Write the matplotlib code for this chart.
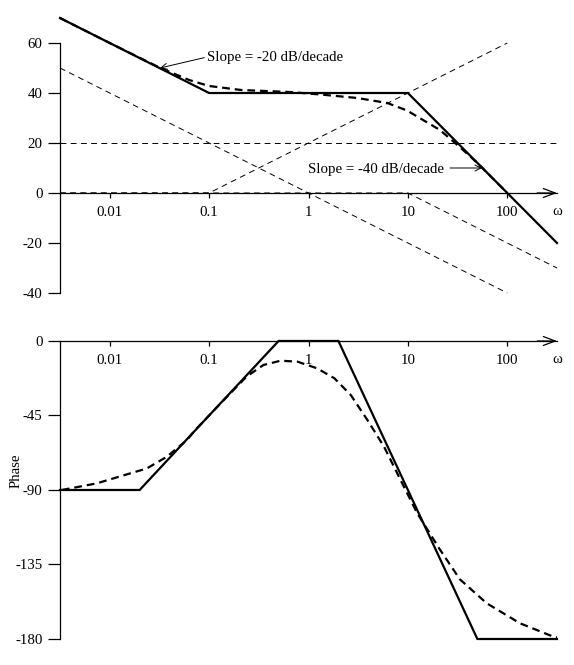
import numpy as np
import matplotlib
matplotlib.use("Agg")
import matplotlib.pyplot as plt
from matplotlib.ticker import FixedLocator, NullLocator
import matplotlib.transforms as mtransforms

plt.rcParams['font.family'] = ['Liberation Serif', 'DejaVu Serif']
plt.rcParams['font.size'] = 10.7
plt.rcParams['axes.unicode_minus'] = False

# frequency range of the plot
w_min, w_max = 10 ** -2.5, 10 ** 2.5
freq_ticks = [0.01, 0.1, 1, 10, 100]
freq_labels = ['0.01', '0.1', '1', '10', '100']

# magnitude: straight-line asymptote (solid)
mag_asym_w = [w_min, 0.1, 10, w_max]
mag_asym_db = [70, 40, 40, -20]

mag_w = [0.00316, 0.01, 0.0316, 0.063, 0.1, 0.21, 0.65, 1.4, 3.1, 6.2, 9.8, 14.2, 21, 33, 50, 100]
mag_db = [70, 60, 50.2, 45.2, 42.8, 41.2, 40.4, 39.3, 38, 36, 33, 29.2, 25.2, 18.5, 12, 0]

# individual factor asymptotes (thin dashed)
gain_w, gain_db = [w_min, 100], [50, -40]
const_w, const_db = [w_min, w_max], [20, 20]
zero_w, zero_db = [w_min, 0.1, 100], [0, 0, 60]
pole_w, pole_db = [w_min, 10, w_max], [0, 0, -30]

# phase: asymptote (solid)
ph_asym_w = [w_min, 0.02, 0.5, 2, 50, w_max]
ph_asym_deg = [-90, -90, 0, 0, -180, -180]

# phase: actual curve (heavy dashed)
ph_w = [0.0033, 0.0074, 0.016, 0.0236, 0.0374, 0.0595, 0.072, 0.129, 0.238, 0.352,
        0.524, 0.775, 1.22, 1.82, 2.66, 3.91, 5.75, 8.44, 12.4, 21, 33.4, 62, 134, 288, 316]
ph_deg = [-90, -86, -80, -77, -70, -60, -54, -38, -21.5, -14.5,
          -11.9, -12.5, -16.5, -22.5, -32.6, -47.7, -63.8, -84, -104, -126, -144, -158.4, -170.5, -178.5, -179]

mag_ticks = [60, 40, 20, 0, -20, -40]
phase_ticks = [0, -45, -90, -135, -180]

fig = plt.figure(figsize=(5.74, 6.65), dpi=100)
ax1 = fig.add_axes([60 / 574, 0.5594, 497 / 574, 0.42105])
ax2 = fig.add_axes([60 / 574, 0.0391, 497 / 574, 0.4556])

thin = dict(color='black', lw=0.7, dashes=(6, 4.5), clip_on=False)
heavy = dict(color='black', lw=1.6, dashes=(3.5, 2.2), clip_on=False)
solid = dict(color='black', lw=1.6, solid_joinstyle='miter', clip_on=False)

# --- magnitude panel ---
ax1.plot(gain_w, gain_db, **thin)
ax1.plot(const_w, const_db, **thin)
ax1.plot(zero_w, zero_db, **thin)
ax1.plot(pole_w, pole_db, **thin)
ax1.plot(mag_asym_w, mag_asym_db, **solid)
ax1.plot(mag_w, mag_db, **heavy)
ax1.set_ylim(-40, 72)

ax1.annotate('Slope = -20 dB/decade', xy=(0.0321, 50), xytext=(0.0953, 54.4),
             va='center', ha='left',
             arrowprops=dict(arrowstyle='->', lw=0.7, color='black', shrinkA=0, shrinkB=0,
                             relpos=(0, 0.5)))
ax1.text(0.99, 9.2, 'Slope = -40 dB/decade', va='center', ha='left')
ax1.annotate('', xy=(55.7, 10), xytext=(26.5, 10),
             arrowprops=dict(arrowstyle='->', lw=0.7, color='black', shrinkA=0, shrinkB=0))

# --- phase panel ---
ax2.plot(ph_asym_w, ph_asym_deg, **solid)
ax2.plot(ph_w, ph_deg, **heavy)
ax2.set_ylim(-180, 3)
ax2.set_ylabel('Phase')
ax2.yaxis.set_label_coords(-0.075, 0.555)

for ax, yt, ylo, yhi in [(ax1, mag_ticks, -40, 60), (ax2, phase_ticks, -180, 0)]:
    ax.set_xscale('log')
    ax.set_xlim(w_min, w_max)
    ax.xaxis.set_major_locator(FixedLocator(freq_ticks))
    ax.xaxis.set_minor_locator(NullLocator())
    ax.set_xticklabels(freq_labels)
    ax.set_yticks(yt)
    ax.set_yticklabels([str(v) for v in yt])
    ax.spines['top'].set_visible(False)
    ax.spines['right'].set_visible(False)
    ax.spines['bottom'].set_position(('data', 0))
    ax.spines['left'].set_bounds(ylo, yhi)
    for s in ['bottom', 'left']:
        ax.spines[s].set_linewidth(0.9)
    ax.tick_params(axis='x', direction='out', length=3.6, width=0.9, pad=5.5)
    ax.tick_params(axis='y', direction='out', length=9, width=0.9, pad=3.5)
    ax.patch.set_visible(False)
    # arrow at the end of the frequency axis
    ax.annotate('', xy=(w_max, 0), xytext=(10 ** 2.3, 0),
                arrowprops=dict(arrowstyle='->,head_length=0.8,head_width=0.3', lw=0.9,
                                color='black', shrinkA=0, shrinkB=0))
    trans = mtransforms.offset_copy(ax.transData, fig=fig, x=0, y=-19, units='dots')
    ax.text(w_max, 0, 'ω', transform=trans, ha='center', va='center')

fig.savefig('out.png', dpi=100)
